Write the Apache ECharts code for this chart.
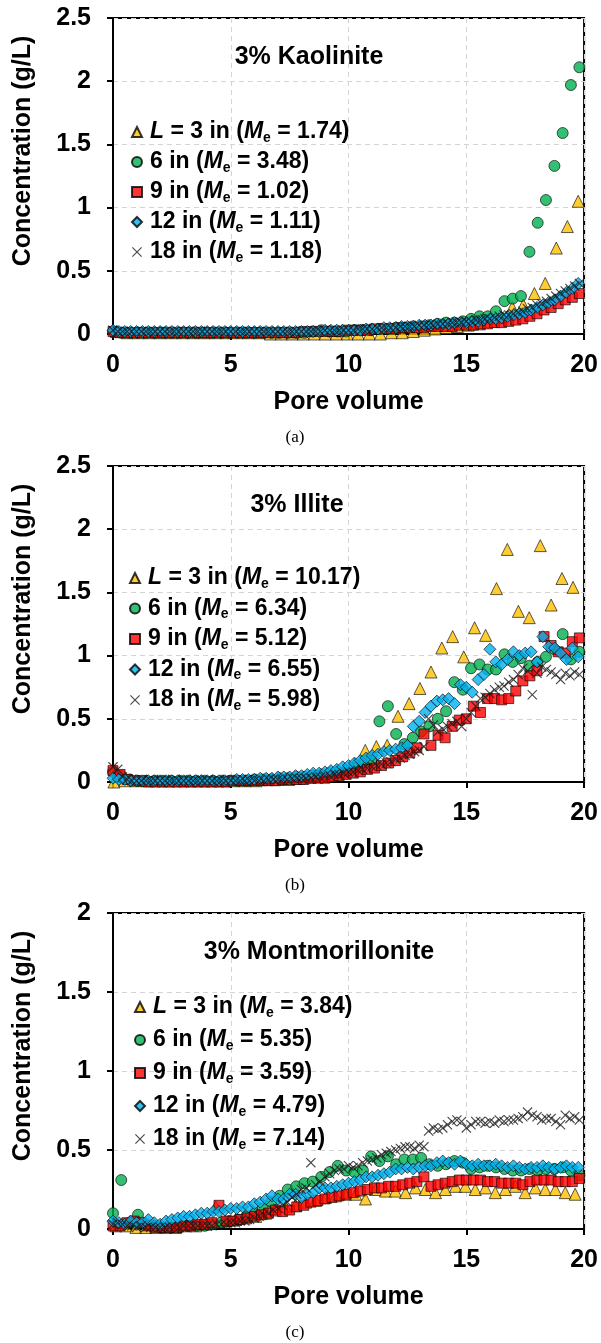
<!DOCTYPE html>
<html><head><meta charset="utf-8">
<script src="https://cdn.jsdelivr.net/npm/echarts/dist/echarts.min.js"></script>
<style>html,body{margin:0;padding:0;background:#fff;}#c{width:601px;height:1343px;}</style>
</head><body><div id="c"></div>
<script>
// ---------- pore volume (x) arrays ----------
const pvA3 = [0.14,0.61,1.07,1.54,2.01,2.48,2.94,3.41,3.88,4.34,4.81,5.28,5.74,6.21,6.68,7.15,7.61,8.08,8.55,9.01,9.48,9.95,10.41,10.88,11.35,11.82,12.28,12.75,13.22,13.68,14.15,14.62,15.08,15.55,16.02,16.49,16.95,17.42,17.89,18.35,18.82,19.29,19.75];
const pvB3 = [0.04,0.5,0.97,1.43,1.9,2.36,2.82,3.29,3.75,4.22,4.68,5.14,5.61,6.07,6.54,7.0,7.46,7.93,8.39,8.86,9.32,9.78,10.25,10.71,11.18,11.64,12.1,12.57,13.03,13.5,13.96,14.42,14.89,15.35,15.82,16.28,16.74,17.21,17.67,18.14,18.6,19.06,19.53];
const pvC3 = [0.12,0.54,0.97,1.39,1.82,2.24,2.66,3.09,3.51,3.94,4.36,4.78,5.21,5.63,6.06,6.48,6.9,7.33,7.75,8.18,8.6,9.02,9.45,9.87,10.3,10.72,11.14,11.57,11.99,12.42,12.84,13.26,13.69,14.11,14.54,14.96,15.38,15.81,16.23,16.66,17.08,17.5,17.93,18.35,18.78,19.2,19.62];
const pv6 = [0,0.35,0.71,1.06,1.41,1.77,2.12,2.47,2.83,3.18,3.54,3.89,4.24,4.6,4.95,5.3,5.66,6.01,6.36,6.72,7.07,7.42,7.78,8.13,8.48,8.84,9.19,9.54,9.9,10.25,10.61,10.96,11.31,11.67,12.02,12.37,12.73,13.08,13.43,13.79,14.14,14.49,14.85,15.2,15.56,15.91,16.26,16.62,16.97,17.32,17.68,18.03,18.38,18.74,19.09,19.44,19.8];
const pv9 = [0,0.3,0.6,0.9,1.2,1.5,1.8,2.1,2.4,2.7,3,3.3,3.6,3.9,4.2,4.5,4.8,5.1,5.4,5.7,6,6.3,6.6,6.9,7.2,7.5,7.8,8.1,8.4,8.7,9,9.3,9.6,9.9,10.2,10.5,10.8,11.1,11.4,11.7,12,12.3,12.6,12.9,13.2,13.5,13.8,14.1,14.4,14.7,15,15.3,15.6,15.9,16.2,16.5,16.8,17.1,17.4,17.7,18,18.3,18.6,18.9,19.2,19.5,19.8];
const pv12 = [0,0.25,0.5,0.75,1,1.25,1.5,1.75,2,2.25,2.5,2.75,3,3.25,3.5,3.75,4,4.25,4.5,4.75,5,5.25,5.5,5.75,6,6.25,6.5,6.75,7,7.25,7.5,7.75,8,8.25,8.5,8.75,9,9.25,9.5,9.75,10,10.25,10.5,10.75,11,11.25,11.5,11.75,12,12.25,12.5,12.75,13,13.25,13.5,13.75,14,14.25,14.5,14.75,15,15.25,15.5,15.75,16,16.25,16.5,16.75,17,17.25,17.5,17.75,18,18.25,18.5,18.75,19,19.25,19.5,19.75];
const pv18 = [0,0.2,0.4,0.6,0.8,1,1.2,1.4,1.6,1.8,2,2.2,2.4,2.6,2.8,3,3.2,3.4,3.6,3.8,4,4.2,4.4,4.6,4.8,5,5.2,5.4,5.6,5.8,6,6.2,6.4,6.6,6.8,7,7.2,7.4,7.6,7.8,8,8.2,8.4,8.6,8.8,9,9.2,9.4,9.6,9.8,10,10.2,10.4,10.6,10.8,11,11.2,11.4,11.6,11.8,12,12.2,12.4,12.6,12.8,13,13.2,13.4,13.6,13.8,14,14.2,14.4,14.6,14.8,15,15.2,15.4,15.6,15.8,16,16.2,16.4,16.6,16.8,17,17.2,17.4,17.6,17.8,18,18.2,18.4,18.6,18.8,19,19.2,19.4,19.6,19.8];

// ---------- (a) 3% Kaolinite ----------
const kao3 = [0.02,0.01,0.01,0.01,0.01,0.01,0.01,0.01,0.01,0.01,0.01,0.01,0.01,0.01,0,0,0,0,0,0,0,0,0,0,0,0.01,0.01,0.02,0.03,0.04,0.05,0.06,0.07,0.08,0.10,0.13,0.21,0.23,0.32,0.40,0.68,0.85,1.05];
const kao6 = [0.02,0.01,0.01,0.01,0.01,0.01,0.01,0.01,0.01,0.01,0.01,0.01,0.01,0.01,0.01,0.01,0.01,0.01,0.01,0.01,0.01,0.01,0.01,0.01,0.02,0.03,0.02,0.02,0.02,0.03,0.03,0.03,0.04,0.04,0.05,0.05,0.06,0.06,0.07,0.08,0.09,0.09,0.10,0.12,0.14,0.14,0.18,0.26,0.28,0.30,0.65,0.88,1.06,1.33,1.59,1.97,2.11];
const kao9 = [0.02,0.01,0.01,0.01,0.01,0.01,0.01,0.01,0.01,0.01,0.01,0.01,0.01,0.01,0.01,0.01,0.01,0.01,0.01,0.01,0.01,0.01,0.01,0.01,0.01,0.01,0.01,0.02,0.02,0.02,0.02,0.02,0.02,0.03,0.03,0.03,0.03,0.04,0.04,0.04,0.04,0.05,0.05,0.05,0.05,0.06,0.06,0.06,0.06,0.07,0.07,0.07,0.08,0.08,0.09,0.09,0.10,0.11,0.12,0.14,0.16,0.19,0.21,0.24,0.27,0.29,0.32];
const kao12 = [0.03,0.02,0.02,0.02,0.02,0.02,0.02,0.02,0.02,0.02,0.02,0.02,0.02,0.02,0.02,0.02,0.02,0.02,0.02,0.02,0.02,0.02,0.02,0.02,0.02,0.02,0.02,0.02,0.02,0.02,0.02,0.02,0.02,0.02,0.02,0.02,0.03,0.03,0.03,0.03,0.03,0.03,0.03,0.04,0.04,0.04,0.05,0.05,0.05,0.06,0.06,0.06,0.07,0.07,0.07,0.08,0.08,0.08,0.09,0.09,0.09,0.10,0.10,0.11,0.12,0.12,0.13,0.14,0.15,0.16,0.17,0.19,0.21,0.23,0.25,0.27,0.30,0.33,0.36,0.40];
const kao18 = [0.03,0.02,0.02,0.02,0.02,0.02,0.02,0.02,0.02,0.02,0.02,0.02,0.02,0.02,0.02,0.02,0.02,0.02,0.02,0.02,0.02,0.02,0.02,0.02,0.02,0.02,0.02,0.02,0.02,0.02,0.02,0.02,0.02,0.02,0.02,0.02,0.02,0.02,0.02,0.02,0.02,0.02,0.02,0.02,0.02,0.03,0.03,0.03,0.03,0.03,0.03,0.03,0.04,0.04,0.04,0.04,0.05,0.05,0.05,0.05,0.05,0.06,0.06,0.06,0.06,0.07,0.07,0.07,0.07,0.08,0.08,0.08,0.09,0.09,0.09,0.10,0.10,0.11,0.11,0.12,0.12,0.13,0.14,0.15,0.15,0.16,0.17,0.18,0.20,0.21,0.23,0.24,0.26,0.28,0.30,0.32,0.34,0.36,0.38,0.40];

// ---------- (b) 3% Illite ----------
const ill3 = [0,0.01,0.01,0.01,0.01,0.01,0.01,0.01,0.01,0.01,0.01,0.01,0.01,0.01,0.02,0.02,0.02,0.03,0.04,0.05,0.06,0.08,0.14,0.25,0.28,0.29,0.52,0.62,0.74,0.87,1.06,1.15,0.99,1.22,1.16,1.53,1.84,1.35,1.30,1.87,1.40,1.61,1.54];
const ill6 = [0.08,0.05,0.02,0.01,0.01,0.01,0.01,0.01,0.01,0.01,0.01,0.01,0.01,0.01,0.01,0.01,0.01,0.02,0.02,0.02,0.03,0.03,0.04,0.04,0.05,0.06,0.07,0.08,0.09,0.11,0.15,0.17,0.48,0.60,0.38,0.30,0.35,0.40,0.44,0.50,0.56,0.79,0.73,0.90,0.93,0.89,0.89,1.01,0.95,0.98,0.92,0.95,0.99,1.05,1.17,0.97,1.03];
const ill9 = [0.09,0.06,0.02,0.01,0.01,0,0,0,0,0,0,0,0,0,0,0,0,0.01,0.01,0.01,0.01,0.01,0.01,0.01,0.02,0.02,0.02,0.02,0.03,0.03,0.03,0.04,0.05,0.06,0.07,0.08,0.10,0.11,0.13,0.15,0.17,0.20,0.23,0.27,0.38,0.29,0.37,0.35,0.44,0.49,0.50,0.60,0.55,0.66,0.66,0.65,0.66,0.72,0.80,0.84,0.88,1.15,1.08,1.03,1.02,1.11,1.14];
const ill12 = [0.03,0.02,0.02,0.01,0.01,0.01,0.01,0.01,0.01,0.01,0.01,0.01,0.01,0.01,0.01,0.01,0.01,0.01,0.01,0.01,0.01,0.02,0.02,0.02,0.02,0.03,0.03,0.03,0.04,0.04,0.04,0.05,0.05,0.06,0.07,0.07,0.08,0.09,0.10,0.12,0.13,0.15,0.17,0.19,0.21,0.22,0.24,0.25,0.26,0.27,0.29,0.44,0.48,0.55,0.60,0.64,0.65,0.66,0.62,0.77,0.75,0.71,0.81,0.85,1.05,0.95,0.93,0.97,1.03,1.00,1.02,1.03,0.95,1.15,1.07,1.06,1.02,0.97,1.06,0.99];
const ill18 = [0.12,0.10,0.04,0.02,0.01,0.01,0.01,0.01,0.01,0.01,0.01,0.01,0.01,0.01,0.01,0.01,0.01,0.01,0.01,0.01,0.01,0.01,0.01,0.01,0.01,0.01,0.01,0.01,0.01,0.01,0.01,0.01,0.01,0.02,0.02,0.02,0.02,0.02,0.03,0.03,0.03,0.03,0.03,0.04,0.04,0.05,0.05,0.06,0.06,0.07,0.08,0.08,0.09,0.10,0.11,0.12,0.13,0.14,0.15,0.16,0.18,0.19,0.21,0.22,0.24,0.25,0.28,0.50,0.45,0.40,0.42,0.44,0.46,0.48,0.44,0.50,0.55,0.60,0.66,0.67,0.70,0.73,0.75,0.76,0.79,0.81,0.85,0.90,0.88,0.69,0.86,0.91,0.89,0.87,0.85,0.81,0.86,0.84,0.87,0.85];

// ---------- (c) 3% Montmorillonite ----------
const mon3 = [0.02,0.02,0.01,0.01,0.01,0.01,0.01,0.02,0.02,0.03,0.14,0.05,0.06,0.07,0.08,0.10,0.12,0.14,0.15,0.17,0.18,0.20,0.21,0.22,0.22,0.19,0.25,0.24,0.24,0.23,0.26,0.25,0.23,0.25,0.27,0.27,0.25,0.26,0.23,0.25,0.27,0.23,0.26,0.25,0.25,0.23,0.22];
const mon6 = [0.10,0.31,0.04,0.09,0.03,0.02,0.01,0.01,0.01,0.02,0.02,0.02,0.03,0.04,0.05,0.06,0.08,0.10,0.13,0.17,0.21,0.25,0.27,0.29,0.30,0.33,0.36,0.40,0.37,0.36,0.37,0.46,0.43,0.46,0.41,0.44,0.44,0.45,0.41,0.40,0.41,0.43,0.42,0.38,0.39,0.40,0.39,0.38,0.37,0.37,0.38,0.37,0.38,0.38,0.39,0.37,0.34];
const mon9 = [0.02,0.02,0.04,0.05,0.04,0.02,0.01,0.01,0.01,0.01,0.02,0.02,0.03,0.03,0.04,0.15,0.05,0.05,0.06,0.07,0.08,0.09,0.10,0.12,0.11,0.12,0.14,0.15,0.17,0.18,0.19,0.20,0.21,0.22,0.23,0.24,0.25,0.26,0.26,0.27,0.27,0.28,0.29,0.30,0.33,0.27,0.28,0.29,0.30,0.31,0.31,0.31,0.31,0.30,0.30,0.29,0.29,0.29,0.28,0.30,0.31,0.31,0.31,0.30,0.30,0.30,0.32];
const mon12 = [0.05,0.04,0.03,0.05,0.04,0.04,0.06,0.04,0.03,0.05,0.06,0.07,0.08,0.08,0.09,0.10,0.10,0.11,0.11,0.12,0.13,0.13,0.14,0.14,0.16,0.17,0.19,0.21,0.19,0.19,0.22,0.22,0.20,0.22,0.23,0.26,0.26,0.26,0.27,0.28,0.29,0.30,0.31,0.33,0.33,0.34,0.35,0.36,0.38,0.38,0.39,0.38,0.39,0.40,0.40,0.42,0.43,0.42,0.41,0.43,0.41,0.40,0.41,0.40,0.40,0.41,0.40,0.39,0.40,0.39,0.38,0.39,0.39,0.40,0.39,0.38,0.39,0.40,0.39,0.39];
const mon18 = [0.03,0.04,0.03,0.02,0.02,0.01,0.02,0.01,0.01,0.01,0.01,0.01,0.01,0.01,0.01,0.02,0.02,0.02,0.02,0.02,0.02,0.02,0.03,0.03,0.03,0.04,0.04,0.05,0.05,0.06,0.07,0.08,0.09,0.10,0.12,0.13,0.15,0.17,0.20,0.22,0.25,0.26,0.42,0.28,0.30,0.33,0.35,0.37,0.38,0.38,0.40,0.39,0.40,0.42,0.43,0.44,0.45,0.47,0.48,0.49,0.50,0.51,0.52,0.52,0.51,0.53,0.52,0.62,0.64,0.63,0.64,0.66,0.68,0.69,0.68,0.64,0.66,0.68,0.68,0.67,0.68,0.67,0.69,0.68,0.69,0.69,0.70,0.71,0.74,0.72,0.71,0.69,0.70,0.70,0.68,0.66,0.72,0.70,0.71,0.69];

// ---------- labels ----------
const panelTitles = ['3% Kaolinite', '3% Illite', '3% Montmorillonite'];
const captions = ['(a)', '(b)', '(c)'];
const columnLengths = ['3', '6', '9', '12', '18'];
const meKao = ['1.74', '3.48', '1.02', '1.11', '1.18'];
const meIll = ['10.17', '6.34', '5.12', '6.55', '5.98'];
const meMon = ['3.84', '5.35', '3.59', '4.79', '7.14'];
const yMaxes = [2.5, 2.5, 2];
const xTicks = [0, 5, 10, 15, 20];
const xAxisName = 'Pore volume';
const yAxisName = 'Concentration (g/L)';

// ---------- layout ----------
const FONT = '"Liberation Sans", Arial, Helvetica, sans-serif';
const GL = 113, GW = 472, GH = 316;
const layout = [
  { top: 18,  titleX: 309, legLeft: 131, legGap: 4,   legTop: 119 },
  { top: 466, titleX: 297, legLeft: 129, legGap: 4.5, legTop: 565 },
  { top: 913, titleX: 319, legLeft: 134, legGap: 7,   legTop: 994 }
];
const xs = [[pvA3, pv6, pv9, pv12, pv18], [pvB3, pv6, pv9, pv12, pv18], [pvC3, pv6, pv9, pv12, pv18]];
const ys = [[kao3, kao6, kao9, kao12, kao18], [ill3, ill6, ill9, ill12, ill18], [mon3, mon6, mon9, mon12, mon18]];
const mes = [meKao, meIll, meMon];
const CROSS = 'path://M0,0.8L0.8,0L5,4.2L9.2,0L10,0.8L5.8,5L10,9.2L9.2,10L5,5.8L0.8,10L0,9.2L4.2,5Z';
const styles = [
  { symbol: 'triangle', size: 12, color: '#FFC000', border: true },
  { symbol: 'circle',   size: 11, color: '#00B050', border: true },
  { symbol: 'rect',     size: 10, color: '#FF0000', border: true },
  { symbol: 'diamond',  size: 12, color: '#00B0F0', border: true },
  { symbol: CROSS,      size: 10, color: '#1a1a1a', border: false }
];

const grids = [], xAxes = [], yAxes = [], series = [], legends = [], titles = [];
const legendLabels = {};
layout.forEach((L, k) => {
  grids.push({ left: GL, top: L.top, width: GW, height: GH, show: true, borderColor: '#000', borderWidth: 2, backgroundColor: 'transparent' });
  xAxes.push({
    gridIndex: k, type: 'value', min: xTicks[0], max: xTicks[xTicks.length - 1], interval: 5,
    axisLine: { show: true, onZero: false, lineStyle: { color: '#000', width: 2 } },
    axisTick: { show: true, inside: false, length: 6, lineStyle: { color: '#000', width: 2 } },
    axisLabel: { fontFamily: FONT, fontWeight: 'bold', fontSize: 25, color: '#000', margin: 19 },
    splitLine: { show: true, lineStyle: { color: '#d4d4d4', type: [5, 4], width: 1 } },
    name: xAxisName, nameLocation: 'middle', nameGap: 56,
    nameTextStyle: { fontFamily: FONT, fontWeight: 'bold', fontSize: 25, color: '#000' }
  });
  yAxes.push({
    gridIndex: k, type: 'value', min: 0, max: yMaxes[k], interval: 0.5,
    axisLine: { show: true, onZero: false, lineStyle: { color: '#000', width: 2 } },
    axisTick: { show: true, inside: false, length: 6, lineStyle: { color: '#000', width: 2 } },
    axisLabel: { fontFamily: FONT, fontWeight: 'bold', fontSize: 25, color: '#000', margin: 22 },
    splitLine: { show: true, lineStyle: { color: '#d4d4d4', type: [5, 4], width: 1 } },
    name: yAxisName, nameLocation: 'middle', nameGap: 77,
    nameTextStyle: { fontFamily: FONT, fontWeight: 'bold', fontSize: 25, color: '#000', padding: [0, 0, 0, 50] }
  });
  const names = [];
  styles.forEach((s, i) => {
    const nm = 'p' + k + 's' + i;
    names.push(nm);
    legendLabels[nm] = (i === 0 ? '{i|L} = ' : '') + columnLengths[i] + ' in ({i|M}{s|e} = ' + mes[k][i] + ')';
    series.push({
      name: nm, type: 'scatter', xAxisIndex: k, yAxisIndex: k,
      symbol: s.symbol, symbolSize: s.size,
      itemStyle: s.border ? { color: s.color, borderColor: '#000', borderWidth: 0.8 } : { color: s.color },
      data: xs[k][i].map((x, j) => [x, ys[k][i][j]]),
      emphasis: { disabled: true }
    });
  });
  legends.push({
    data: names, orient: 'vertical', left: L.legLeft, top: L.legTop, itemGap: L.legGap, padding: 0,
    itemWidth: 10, itemHeight: 10, selectedMode: false,
    formatter: n => legendLabels[n],
    textStyle: {
      fontFamily: FONT, fontWeight: 'bold', fontSize: 23, color: '#000', lineHeight: 26, padding: [0, 0, 0, 3],
      rich: {
        i: { fontFamily: FONT, fontWeight: 'bold', fontStyle: 'italic', fontSize: 23, color: '#000', lineHeight: 26 },
        s: { fontFamily: FONT, fontWeight: 'bold', fontSize: 14, color: '#000', lineHeight: 8, verticalAlign: 'bottom' }
      }
    }
  });
  titles.push({
    text: panelTitles[k], left: L.titleX, top: L.top + 27, textAlign: 'center', padding: 0,
    textStyle: { fontFamily: FONT, fontWeight: 'bold', fontSize: 25, color: '#000' }
  });
  titles.push({
    text: captions[k], left: 295, top: L.top + GH + 95, textAlign: 'center', padding: 0,
    textStyle: { fontFamily: '"Liberation Serif", "Times New Roman", serif', fontWeight: 'normal', fontSize: 17, color: '#000' }
  });
});

const chart = echarts.init(document.getElementById('c'), null, { renderer: 'canvas' });
chart.setOption({
  animation: false, backgroundColor: '#fff',
  title: titles, legend: legends, grid: grids, xAxis: xAxes, yAxis: yAxes, series: series
});
</script></body></html>
